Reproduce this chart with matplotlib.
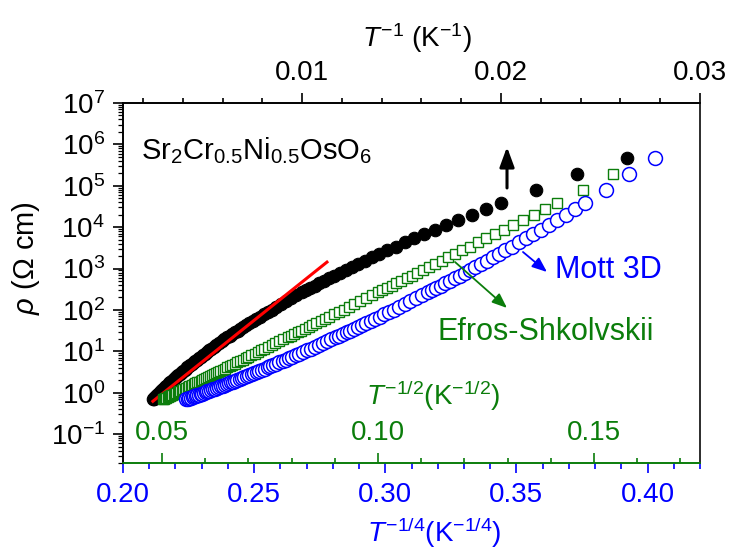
import numpy as np
import matplotlib
matplotlib.use("Agg")
import matplotlib.pyplot as plt
from matplotlib.ticker import FixedLocator, MultipleLocator, LogLocator, NullFormatter, FormatStrFormatter

plt.rcParams.update({
    "font.family": ["Liberation Sans", "DejaVu Sans"],
    "mathtext.fontset": "custom",
    "mathtext.rm": "Liberation Sans",
    "mathtext.it": "Liberation Sans:italic",
    "mathtext.bf": "Liberation Sans:bold",
    "mathtext.sf": "Liberation Sans",
})

# Resistivity of Sr2Cr0.5Ni0.5OsO6 (temperature in K, log10 of rho in Ohm cm)
temperature = np.array([
    38, 42, 46, 50, 52, 54, 56, 58, 60, 62, 64, 66, 68, 70, 72, 74, 76, 78, 80, 82,
    84, 86, 88, 90, 92, 94, 96, 98, 100,
    103, 106, 109, 112, 115, 118, 121, 124, 127, 130, 133, 136, 139, 142, 145, 148,
    151, 154, 157, 160,
    164, 168, 172, 176, 180, 184, 188, 192, 196, 200, 204, 208, 212, 216, 220, 224,
    228, 232, 236, 240, 244, 248, 252, 256, 260, 264, 268, 272, 276, 280, 284, 288,
    292, 296, 300, 304, 308, 312, 316, 320, 324, 328, 332, 336, 340, 344, 348, 352,
    356, 360, 364, 368, 372, 376, 380, 384, 388, 392, 396,
], dtype=float)

log_rho = np.array([
    5.66, 5.28, 4.91, 4.59, 4.44, 4.30, 4.17, 4.05, 3.94, 3.83, 3.73, 3.63, 3.53, 3.44,
    3.35, 3.27, 3.19, 3.11, 3.04, 2.97, 2.90, 2.83, 2.77, 2.71, 2.65, 2.59, 2.53, 2.48,
    2.43,
    2.35, 2.28, 2.21, 2.14, 2.07, 2.01, 1.95, 1.90, 1.84, 1.79, 1.73, 1.68, 1.64, 1.59,
    1.54, 1.50, 1.46, 1.42, 1.38, 1.34,
    1.29, 1.24, 1.19, 1.15, 1.10, 1.06, 1.02, 0.98, 0.94, 0.90, 0.87, 0.83, 0.80, 0.76,
    0.73, 0.70, 0.67, 0.64, 0.61, 0.58, 0.55, 0.53, 0.50, 0.48, 0.45, 0.43, 0.40, 0.38,
    0.36, 0.33, 0.31, 0.29, 0.27, 0.25, 0.23, 0.21, 0.19, 0.17, 0.15, 0.13, 0.11, 0.10,
    0.08, 0.06, 0.05, 0.03, 0.01, 0.00, -0.02, -0.03, -0.05, -0.06, -0.08, -0.09, -0.11,
    -0.12, -0.13, -0.15, -0.16,
])

# Arrhenius fit (rho vs 1/T), end points of the red line
fit_inv_T = [0.0025, 0.01125]
fit_rho = [0.62, 1430.0]

# Axis ticks
mott_ticks = [0.20, 0.25, 0.30, 0.35, 0.40]
es_ticks = [0.05, 0.10, 0.15]
arrh_ticks = [0.01, 0.02, 0.03]
rho_ticks = [1e-1, 1e0, 1e1, 1e2, 1e3, 1e4, 1e5, 1e6, 1e7]

BLUE = "#0000ff"
GREEN = "#0b7d0b"
RED = "#ff0000"

rho = 10.0 ** log_rho
order = np.argsort(-temperature)          # high T (left) to low T (right)
T_sorted = temperature[order]
rho_sorted = rho[order]
es_mask = T_sorted > 40                   # lowest-T point not in the ES set

fig = plt.figure(figsize=(7.34, 5.5), dpi=100)
fig.patch.set_facecolor("white")
ax = fig.add_axes([0.1676, 0.1582, 0.7861, 0.6545])   # T^-1/4 (Mott), bottom
ax_top = ax.twiny()                                   # T^-1 (Arrhenius), top
ax_es = ax.twiny()                                    # T^-1/2 (ES), inner bottom

ax_top.set_zorder(1)
ax_es.set_zorder(2)
ax.set_zorder(3)
for a in (ax, ax_top, ax_es):
    a.patch.set_visible(False)

ax.set_yscale("log")
ax.set_ylim(0.02, 1e7)
ax.set_xlim(0.20, 0.42)
ax_top.set_xlim(0.001, 0.03)
ax_es.set_xlim(0.04097, 0.17454)

# data
ax_top.plot(1.0 / T_sorted, rho_sorted, "o", ls="none", ms=9, mfc="k", mec="k", mew=0.8)
ax_top.plot(fit_inv_T, fit_rho, "-", color=RED, lw=2.2, zorder=5)
ax_es.plot(T_sorted[es_mask] ** -0.5, rho_sorted[es_mask], "s", ls="none", ms=6.6,
           mfc="white", mec=GREEN, mew=1.0)
ax.plot(T_sorted ** -0.25, rho_sorted, "o", ls="none", ms=10, mfc="white", mec=BLUE, mew=1.1)

lw = 1.2
# spines
for a in (ax, ax_top, ax_es):
    for s in a.spines.values():
        s.set_linewidth(lw)
ax.spines["bottom"].set_color(GREEN)
ax.spines["right"].set_color("#333333")
ax_top.spines["bottom"].set_visible(False)
ax_es.spines["top"].set_visible(False)
ax_es.spines["left"].set_visible(False)
ax_es.spines["right"].set_visible(False)
ax_es.spines["bottom"].set_visible(True)
ax_es.spines["bottom"].set_color(GREEN)
ax_es.spines["bottom"].set_zorder(10)

# y axis (shared by all three x scales)
ax.yaxis.set_major_locator(FixedLocator(rho_ticks))
ax.yaxis.set_minor_locator(LogLocator(base=10, subs=np.arange(2, 10), numticks=20))
ax.yaxis.set_minor_formatter(NullFormatter())
ax.tick_params(axis="y", which="major", direction="out", length=7, width=lw,
               labelsize=20, pad=6, left=True, labelleft=True, right=False, labelright=False)
ax.tick_params(axis="y", which="minor", direction="out", length=3.6, width=0.9,
               left=True, right=False)
ax.set_ylabel(r"$\rho$ ($\Omega$ cm)", fontsize=21)
ax.yaxis.set_label_coords(-0.14, 0.57)
for a in (ax_top, ax_es):
    a.tick_params(axis="y", which="both", left=False, right=False,
                  labelleft=False, labelright=False)

# bottom (Mott) axis
ax.xaxis.set_major_locator(FixedLocator(mott_ticks))
ax.xaxis.set_minor_locator(MultipleLocator(0.01))
ax.xaxis.set_major_formatter(FormatStrFormatter("%.2f"))
ax.tick_params(axis="x", which="major", direction="out", length=7, width=lw,
               colors=BLUE, labelsize=20, pad=7)
ax.tick_params(axis="x", which="minor", direction="out", length=4.3, width=lw, colors=BLUE)
ax.set_xlabel(r"$T^{-1/4}$(K$^{-1/4}$)", fontsize=20, color=BLUE)
ax.xaxis.set_label_coords(0.539, -0.147)

# top (Arrhenius) axis
ax_top.xaxis.set_major_locator(FixedLocator(arrh_ticks))
ax_top.xaxis.set_minor_locator(MultipleLocator(0.002))
ax_top.xaxis.set_major_formatter(FormatStrFormatter("%.2f"))
ax_top.tick_params(axis="x", which="major", direction="out", length=7, width=lw,
                   labelsize=20, pad=5)
ax_top.tick_params(axis="x", which="minor", direction="out", length=3.6, width=lw)
ax_top.set_xlabel(r"$T^{-1}$ (K$^{-1}$)", fontsize=20)
ax_top.xaxis.set_label_coords(0.51, 1.155)

# inner bottom (ES) axis
ax_es.xaxis.set_ticks_position("bottom")
ax_es.xaxis.set_label_position("bottom")
ax_es.xaxis.set_major_locator(FixedLocator(es_ticks))
ax_es.xaxis.set_minor_locator(MultipleLocator(0.01))
ax_es.xaxis.set_major_formatter(FormatStrFormatter("%.2f"))
ax_es.tick_params(axis="x", which="major", direction="in", length=7, width=lw,
                  colors=GREEN, labelsize=20, pad=-31)
ax_es.tick_params(axis="x", which="minor", direction="in", length=3.6, width=lw, colors=GREEN)
ax_es.set_xlabel(r"$T^{-1/2}$(K$^{-1/2}$)", fontsize=20, color=GREEN)
ax_es.xaxis.set_label_coords(0.537, 0.235)

# annotations
ax.text(0.031, 0.844, r"Sr$_2$Cr$_{0.5}$Ni$_{0.5}$OsO$_6$", transform=ax.transAxes,
        fontsize=21, ha="left", va="baseline")
ax.annotate("", xy=(0.6655, 0.878), xytext=(0.6655, 0.764), xycoords="axes fraction",
            arrowprops=dict(arrowstyle="-|>,head_length=0.6,head_width=0.22",
                            lw=2.2, color="k", mutation_scale=20, shrinkA=0, shrinkB=0))
ax.annotate("", xy=(0.7348, 0.5306), xytext=(0.6932, 0.5861), xycoords="axes fraction",
            arrowprops=dict(arrowstyle="-|>,head_length=0.45,head_width=0.18",
                            lw=1.3, color=BLUE, mutation_scale=20, shrinkA=0, shrinkB=0))
ax.text(0.7487, 0.5361, "Mott 3D", transform=ax.transAxes, fontsize=22, color=BLUE,
        ha="left", va="center")
ax.annotate("", xy=(0.6655, 0.4306), xytext=(0.5754, 0.5583), xycoords="axes fraction",
            arrowprops=dict(arrowstyle="-|>,head_length=0.45,head_width=0.18",
                            lw=1.3, color=GREEN, mutation_scale=20, shrinkA=0, shrinkB=0))
ax.text(0.5442, 0.3639, "Efros-Shkolvskii", transform=ax.transAxes, fontsize=22,
        color=GREEN, ha="left", va="center")

fig.savefig("out.png", dpi=100)
